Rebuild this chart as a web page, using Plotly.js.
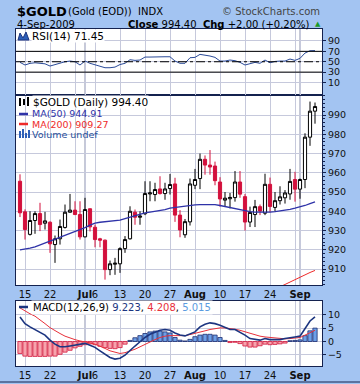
<!DOCTYPE html>
<html><head><meta charset="utf-8">
<script src="https://cdn.plot.ly/plotly-3.0.1.min.js"></script>
<style>html,body{margin:0;padding:0;background:#a3c4f2;}#chart{width:360px;height:384px;}</style>
</head><body><div id="chart"></div>
<script>
const dates = ['2009-06-12','2009-06-15','2009-06-16','2009-06-17','2009-06-18','2009-06-19','2009-06-22','2009-06-23','2009-06-24','2009-06-25','2009-06-26','2009-06-29','2009-06-30',
'2009-07-01','2009-07-02','2009-07-06','2009-07-07','2009-07-08','2009-07-09','2009-07-10','2009-07-13','2009-07-14','2009-07-15','2009-07-16','2009-07-17','2009-07-20','2009-07-21','2009-07-22','2009-07-23','2009-07-24','2009-07-27','2009-07-28','2009-07-29','2009-07-30','2009-07-31',
'2009-08-03','2009-08-04','2009-08-05','2009-08-06','2009-08-07','2009-08-10','2009-08-11','2009-08-12','2009-08-13','2009-08-14','2009-08-17','2009-08-18','2009-08-19','2009-08-20','2009-08-21','2009-08-24','2009-08-25','2009-08-26','2009-08-27','2009-08-28','2009-08-31',
'2009-09-01','2009-09-02','2009-09-03','2009-09-04'];
const openP  = [955.6,939.7,928.0,935.2,938.8,933.8,934.3,922.7,925.7,931.6,939.5,940.6,938.3,926.7,941.3,931.7,925.7,925.0,909.7,912.5,912.7,920.6,925.7,939.5,936.9,938.7,949.0,948.7,951.6,949.2,951.8,954.2,938.0,927.8,934.5,953.5,957.0,967.0,964.0,963.5,955.2,945.8,946.5,947.1,955.2,947.6,934.4,938.3,942.4,939.0,954.0,942.0,945.5,947.0,949.0,956.5,951.5,956.5,978.5,992.0];
const highP  = [959.2,941.0,940.0,940.0,944.4,939.7,934.8,927.4,935.7,943.5,949.0,945.2,945.2,947.0,941.5,933.1,926.2,925.3,914.4,915.8,921.3,927.1,942.6,940.9,940.0,955.6,955.6,954.8,958.2,954.8,959.4,957.4,940.6,936.0,957.0,962.0,970.0,969.0,971.8,965.8,957.7,950.0,949.5,960.9,960.9,949.0,942.4,945.9,943.5,959.5,957.5,950.0,953.0,951.0,962.0,960.5,957.0,980.5,997.0,996.5];
const lowP   = [937.0,925.3,927.4,928.3,929.7,930.5,918.4,913.2,922.7,931.0,939.3,938.0,925.3,926.5,929.5,921.3,921.3,904.5,906.8,907.0,908.0,918.4,925.3,933.0,933.0,938.0,945.2,945.2,948.7,946.0,948.7,934.5,926.5,926.2,932.6,951.5,951.5,959.0,959.0,953.5,942.4,942.5,941.5,945.0,947.0,930.0,931.8,931.8,938.0,938.0,939.5,940.0,943.5,944.0,946.0,945.0,946.5,952.0,974.0,985.5];
const closeP = [939.2,930.5,935.2,938.8,933.1,935.0,923.1,925.7,932.1,939.5,940.6,938.3,926.7,940.9,931.9,925.3,925.0,909.7,912.7,913.0,920.6,925.3,940.0,936.9,937.5,949.2,949.5,951.3,949.2,951.6,953.9,938.0,930.3,934.6,954.2,956.5,967.0,964.0,963.0,955.9,946.4,946.8,947.2,955.2,948.9,934.4,939.4,942.4,940.1,954.0,942.5,945.5,947.5,949.5,955.5,951.5,956.5,978.5,992.0,994.4];
const ma50 = [920.0,920.3,920.8,921.5,922.5,923.5,924.5,925.5,926.3,927.2,928.3,929.3,930.3,931.5,932.8,933.8,934.3,934.6,934.8,935.0,935.4,936.2,937.0,937.6,938.4,939.2,939.6,940.0,940.4,940.9,941.6,942.0,942.4,942.8,943.1,943.3,943.5,943.6,943.6,943.5,943.0,942.4,941.8,941.2,940.7,940.2,939.8,939.6,939.5,939.5,939.6,939.8,940.1,940.5,941.0,941.6,942.2,943.0,944.0,944.91];
const ma200 = [null,null,null,null,null,null,null,null,null,null,null,null,null,null,null,null,null,null,null,null,null,null,null,null,null,null,null,null,null,null,null,null,null,null,null,null,null,null,null,null,null,null,null,null,null,null,null,null,null,null,null,899.5,900.8,902.1,903.4,904.6,905.8,907.0,908.2,909.27];
const rsi = [48.8,43.7,46.9,48.0,47.0,46.0,41.7,44.6,47.0,50.0,51.3,50.0,43.7,51.3,47.0,44.6,42.3,38.5,38.5,39.7,44.6,47.0,53.9,52.6,53.3,59.0,59.0,59.6,60.3,59.6,59.6,51.3,47.0,47.0,57.7,58.4,64.2,62.9,61.0,58.4,51.3,51.3,53.3,52.0,48.8,43.7,47.0,48.8,47.0,53.3,48.0,50.6,51.3,51.3,55.2,52.6,56.5,66.7,71.2,71.45];
const macd = [9.2,6.7,5.5,4.5,3.6,2.4,0.5,-1.0,-2.0,-2.0,-1.7,-1.4,-1.0,-0.7,-1.4,-2.2,-3.5,-4.9,-6.0,-6.6,-6.3,-5.1,-3.2,-1.7,-0.1,1.5,2.7,3.6,4.2,4.5,4.2,3.2,2.4,2.1,3.0,3.6,5.5,6.5,7.0,6.7,6.1,5.2,4.5,4.5,3.6,2.4,1.1,0.7,0.5,1.1,0.7,0.7,0.7,1.1,1.5,1.7,2.0,4.9,7.7,9.223];
const signal = [12.6,11.4,10.4,9.5,8.2,6.7,5.2,4.0,3.0,2.0,1.2,0.7,0.2,-0.1,-0.5,-1.0,-1.7,-2.6,-3.5,-4.1,-4.5,-4.2,-3.6,-2.9,-2.0,-1.0,-0.1,0.7,1.5,2.0,2.2,2.2,2.2,2.2,2.6,3.0,3.4,4.0,4.5,4.9,5.1,5.1,4.9,4.6,4.2,3.6,3.0,2.4,2.0,1.7,1.5,1.4,1.1,1.0,1.1,1.4,1.5,2.4,3.4,4.208];
const hist = [-4.5,-5.5,-5.6,-5.6,-5.6,-5.6,-5.5,-5.5,-4.8,-4.0,-3.3,-2.4,-1.8,-1.2,-0.9,-1.2,-1.8,-2.3,-2.6,-2.7,-2.3,-1.0,0.4,1.4,2.2,3.0,3.6,3.9,3.9,3.6,3.2,1.5,0.5,0.2,0.8,1.8,2.4,2.7,2.7,2.4,1.5,0.4,-0.4,-0.3,-0.8,-1.7,-2.1,-2.1,-1.6,-1.0,-1.2,-1.1,-0.9,-0.6,0.3,0.4,0.6,2.2,4.0,5.015];
const tickDates = ['2009-06-15','2009-06-22','2009-06-29','2009-07-01','2009-07-06','2009-07-13','2009-07-20','2009-07-27','2009-08-03','2009-08-10','2009-08-17','2009-08-24','2009-08-31','2009-09-01'];
const tickLabels = ['15','22','','<b>Jul</b>','6','13','20','27','<b>Aug</b>','10','17','24','','<b>Sep</b>'];
const monthLines = ['2009-07-01','2009-09-01'];
const priceTicks = [910,920,930,940,950,960,970,980,990];
const rsiTicks = [10,30,50,70,90];
const macdTicks = [-5,0,5,10];

const W=360,H=384;
const px = x => x/W, py = y => 1 - y/H;
const FONT = 'DejaVu Sans, Verdana, sans-serif';
const GRID = '#c6c9dc', BORDER = '#14224f';
const xr = [-0.8, 60.4];
const xd = [px(16), px(322)];

function xAxis(showLabels, anchor){
  return {type:'category', categoryarray:dates, range:xr, domain:xd, anchor:anchor, rangeslider:{visible:false},
    tickmode:'array', tickvals:tickDates, ticktext:tickLabels, showticklabels:showLabels, tickangle:0,
    tickfont:{family:FONT,size:10,color:'#111'}, showgrid:true, gridcolor:GRID, gridwidth:1,
    showline:true, mirror:true, linecolor:BORDER, linewidth:1, ticks:'', zeroline:false, fixedrange:true};
}
function yAxis(domain, range, tv, anchor){
  return {domain:domain, range:range, side:'right', anchor:anchor, tickmode:'array', tickvals:tv,
    tickfont:{family:FONT,size:9.5,color:'#111'}, showgrid:true, gridcolor:GRID, gridwidth:1,
    showline:true, mirror:true, linecolor:BORDER, linewidth:1, ticks:'outside', ticklen:3, tickcolor:BORDER,
    zeroline:false, fixedrange:true};
}

const traces = [
  {type:'bar', x:dates, y:hist, xaxis:'x', yaxis:'y', width:0.85,
   marker:{color:hist.map(v=>v>=0?'#6d9fe6':'#f6a3ad'), line:{color:hist.map(v=>v>=0?'#1d2c6e':'#d3173b'), width:0.8}}},
  {type:'scatter', mode:'lines', x:dates, y:signal, xaxis:'x', yaxis:'y', line:{color:'#e8303a', width:1}},
  {type:'scatter', mode:'lines', x:dates, y:macd, xaxis:'x', yaxis:'y', line:{color:'#1c3580', width:1.6}},
  {type:'candlestick', x:dates, open:openP, high:highP, low:lowP, close:closeP, xaxis:'x2', yaxis:'y2', whiskerwidth:0,
   increasing:{line:{color:'#000000', width:1}, fillcolor:'#ffffff'},
   decreasing:{line:{color:'#d3103c', width:1}, fillcolor:'#d3103c'}},
  {type:'scatter', mode:'lines', x:dates, y:ma50, xaxis:'x2', yaxis:'y2', line:{color:'#2e32a8', width:1.3}},
  {type:'scatter', mode:'lines', x:dates, y:ma200, xaxis:'x2', yaxis:'y2', line:{color:'#ee2a2a', width:1}},
  {type:'scatter', mode:'lines', x:dates, y:rsi, xaxis:'x3', yaxis:'y3', line:{color:'#2a4a98', width:1}}
];

const shapes = [];
monthLines.forEach(d=>{
  [['x','y',[-9.2,15.2]],['x2','y2',[901.7,1000.4]],['x3','y3',[-14,113]]].forEach(([xa,ya,r])=>{
    shapes.push({type:'line', xref:xa, yref:ya, x0:d, x1:d, y0:r[0], y1:r[1], layer:'below', line:{color:'#8d93ad', width:1}});
  });
});
shapes.push({type:'line', xref:'paper', yref:'y3', x0:xd[0], x1:xd[1], y0:70, y1:70, layer:'above', line:{color:'#000', width:1}});
shapes.push({type:'line', xref:'paper', yref:'y3', x0:xd[0], x1:xd[1], y0:30, y1:30, layer:'above', line:{color:'#000', width:1}});
shapes.push({type:'line', xref:'paper', yref:'y3', x0:xd[0], x1:xd[1], y0:50, y1:50, layer:'above', line:{color:'#000', width:1, dash:'dashdot'}});
// legend icons
shapes.push({type:'line', xref:'paper', yref:'paper', x0:px(19), x1:px(28), y0:py(114), y1:py(114), line:{color:'#2e32a8', width:2.5}});
shapes.push({type:'line', xref:'paper', yref:'paper', x0:px(19), x1:px(28), y0:py(124), y1:py(124), line:{color:'#ee2a2a', width:2.5}});
shapes.push({type:'line', xref:'paper', yref:'paper', x0:px(19), x1:px(28), y0:py(307), y1:py(307), line:{color:'#1c3580', width:2.5}});
shapes.push({type:'path', xref:'paper', yref:'paper', path:`M ${px(18)},${py(40)} L ${px(20)},${py(33)} L ${px(23)},${py(38)} L ${px(26)},${py(32)} L ${px(29)},${py(40)} Z`, fillcolor:'#2d5fb8', line:{color:'#1c3580', width:1}});
[[19,131,138],[22,129,138],[25,133,138],[28,130,138]].forEach(([x,y0,y1])=>shapes.push({type:'rect', xref:'paper', yref:'paper', x0:px(x), x1:px(x+2), y0:py(y1), y1:py(y0), fillcolor:'#2d5fb8', line:{width:0}}));
[[20,98,106],[24,99,105],[28,97,106]].forEach(([x,y0,y1])=>shapes.push({type:'rect', xref:'paper', yref:'paper', x0:px(x-1), x1:px(x+1), y0:py(y1), y1:py(y0), fillcolor:'#000', line:{width:0}}));
shapes.push({type:'line', xref:'paper', yref:'paper', x0:0, x1:1, y0:py(382), y1:py(382), line:{color:BORDER, width:1}});

function ann(x,y,text,opts){
  return Object.assign({xref:'paper', yref:'paper', x:px(x), y:py(y), text:text, showarrow:false, xanchor:'left', yanchor:'middle',
    font:{family:FONT, size:10, color:'#000'}}, opts||{});
}
const annotations = [
  ann(15,11,'<b>$GOLD</b>',{font:{family:FONT,size:13,color:'#000'}}),
  ann(66,11,'(Gold (EOD))  INDX',{font:{family:FONT,size:10,color:'#000'}}),
  ann(322,11,'© StockCharts.com',{xanchor:'right',font:{family:FONT,size:10,color:'#444'}}),
  ann(15,24,'4-Sep-2009',{font:{family:FONT,size:10,color:'#000'}}),
  ann(312,24,'<b>Close</b> 994.40  <b>Chg</b> +2.00 (+0.20%)',{xanchor:'right',font:{family:FONT,size:10,color:'#000'}}),
  ann(318,24,'▲',{xanchor:'center',font:{family:FONT,size:7,color:'#1a9a2a'}}),
  ann(31,36,'RSI(14) 71.45',{bgcolor:'#ffffff',borderpad:0,font:{family:FONT,size:10.5,color:'#000'}}),
  ann(32,102,'$GOLD (Daily) 994.40',{bgcolor:'#ffffff',borderpad:0,font:{family:FONT,size:10.5,color:'#000'}}),
  ann(30,113.5,'MA(50) 944.91',{font:{family:FONT,size:9.5,color:'#2e32a8'}}),
  ann(30,124,'MA(200) 909.27',{font:{family:FONT,size:9.5,color:'#ee2a2a'}}),
  ann(30,134.5,'Volume undef',{font:{family:FONT,size:9.5,color:'#1f4e9a'}}),
  ann(31,307,'MACD(12,26,9) <span style="color:#1c3580">9.223</span>, <span style="color:#e8303a">4.208</span>, <span style="color:#5b9be0">5.015</span>',{bgcolor:'#ffffff',borderpad:1,font:{family:FONT,size:10,color:'#000'}})
];

const layout = {
  width:W, height:H, margin:{l:0,r:0,t:0,b:0}, paper_bgcolor:'#a3c4f2', plot_bgcolor:'#ffffff',
  showlegend:false, boxgap:0.1, bargap:0.1, hovermode:false,
  xaxis: xAxis(true,'y'),
  xaxis2: xAxis(true,'y2'),
  xaxis3: xAxis(false,'y3'),
  yaxis: yAxis([py(366), py(301)], [-9.2, 15.2], macdTicks, 'x'),
  yaxis2: Object.assign(yAxis([py(285), py(95)], [901.7, 1000.4], priceTicks, 'x2'), {minor:{ticks:'outside', ticklen:2, dtick:2, tickcolor:BORDER, showgrid:false}}),
  yaxis3: yAxis([py(95), py(29)], [-14, 113], rsiTicks, 'x3'),
  shapes:shapes, annotations:annotations
};
Plotly.newPlot('chart', traces, layout, {staticPlot:true, displayModeBar:false});
</script></body></html>
